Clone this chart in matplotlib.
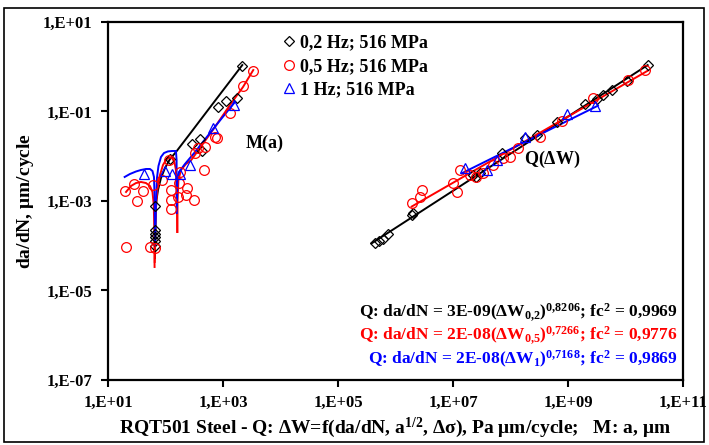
import math
import matplotlib
matplotlib.use("Agg")
import matplotlib.pyplot as plt
from matplotlib.ticker import FixedLocator, FuncFormatter, NullLocator
from matplotlib.patches import Rectangle

plt.rcParams['font.family'] = ['Liberation Serif', 'DejaVu Serif']
plt.rcParams['font.weight'] = 'bold'
plt.rcParams['mathtext.default'] = 'regular'

# ---- M(a): da/dN vs crack length a (um) ----
m_a_02 = [65.6, 65.6, 65.6, 65.6, 65.6, 65.6, 120, 289, 398, 431, 818, 1127, 1750, 2138]
m_v_02 = [9.86e-5, 1.28e-4, 1.57e-4, 1.83e-4, 2.25e-4, 7.73e-4, 0.00868, 0.0188, 0.0243,
          0.0131, 0.126, 0.172, 0.200, 1.04]

m_a_05 = [19.8, 28.3, 40.6, 32.6, 20.6, 53.1, 64.9, 60.6, 87.9, 117, 127, 127, 127, 165,
          172, 236, 227, 317, 179, 467, 326, 372, 486, 726, 777, 1324, 2254, 3365]
m_v_05 = [0.00167, 0.0024, 0.00167, 0.0010, 9.5e-5, 9.5e-5, 8.9e-5, 0.00228, 0.00294,
          0.00825, 0.00176, 0.00105, 0.000662, 0.00123, 0.00248, 0.00192, 0.00136,
          0.00105, 0.00438, 0.00493, 0.0118, 0.0151, 0.0163, 0.0274, 0.0252, 0.0912,
          0.371, 0.804]

m_a_1 = [42.8, 98.0, 128, 179, 267, 678, 1553]
m_v_1 = [0.00401, 0.00476, 0.00401, 0.00401, 0.00637, 0.0421, 0.140]

# ---- Q(dW): da/dN vs energy parameter dW ----
q_w_02 = [4.40e5, 5.22e5, 6.14e5, 7.50e5, 1.91e6, 2.02e6, 2.23e7, 2.51e7, 2.95e7, 7.03e7,
          1.79e8, 2.85e8, 6.36e8, 1.98e9, 3.16e9, 4.06e9, 5.75e9, 1.05e10, 2.43e10]
q_v_02 = [1.17e-4, 1.30e-4, 1.42e-4, 1.80e-4, 4.86e-4, 5.39e-4, 0.00381, 0.00344, 0.00423,
          0.0116, 0.0256, 0.0298, 0.0592, 0.147, 0.190, 0.234, 0.302, 0.481, 1.09]

q_w_05 = [1.91e6, 2.67e6, 2.86e6, 1.01e7, 1.16e7, 1.32e7, 1.98e7, 2.51e7, 3.33e7, 4.97e7,
          7.41e7, 9.80e7, 1.35e8, 3.26e8, 7.77e8, 2.72e9, 1.12e10, 2.18e10]
q_v_05 = [8.89e-4, 0.00125, 0.00176, 0.00248, 0.00161, 0.00493, 0.00381, 0.00344, 0.00423,
          0.00637, 0.00914, 0.00962, 0.0153, 0.0269, 0.0614, 0.200, 0.506, 0.845]

q_w_1 = [1.62e7, 3.85e7, 5.76e7, 1.79e8, 9.8e8, 2.95e9]
q_v_1 = [0.00546, 0.00493, 0.00825, 0.0269, 0.0879, 0.133]

# ---- fitted curves ----
fit_m_02_a = [65.6, 66.2, 67.3, 69.7, 74.1, 83.5, 98.0, 120, 152, 267, 398, 726, 1324, 2168]
fit_m_02_v = [5.32e-5, 1.34e-4, 4.86e-4, 0.00105, 0.00176, 0.00327, 0.00546, 0.00868,
              0.0124, 0.0319, 0.0627, 0.173, 0.475, 1.09]

fit_m_05_a = [[20.6, 25.1, 30.7, 37.5, 45.8, 53.7, 59.4, 62.6, 63.9, 64.6],
              [65.1, 66.2, 68.4, 72.6, 80.2, 90.5, 102, 115, 130, 143, 152, 157, 160],
              [161, 162.3, 168, 186, 227, 281, 398, 726, 1324, 2228, 3365]]
fit_m_05_v = [[0.00159, 0.00216, 0.00252, 0.00266, 0.00252, 0.00216, 0.00159, 0.000815,
               0.000225, 3.35e-5],
              [4.34e-5, 2.25e-4, 8.15e-4, 0.00195, 0.00381, 0.00637, 0.00825, 0.00938,
               0.00914, 0.00745, 0.00493, 0.00176, 0.000203],
              [0.000203, 0.00105, 0.00294, 0.00493, 0.00671, 0.00825, 0.0153, 0.0451,
               0.140, 0.352, 0.845]]

fit_m_1_a = [[19.5, 24.1, 30.7, 37.5, 45.8, 53.7, 59.4, 63.1, 64.9, 65.6],
             [66.5, 68.4, 71.1, 75.5, 83.5, 94.2, 110, 130, 152, 156, 157],
             [158.5, 160.3, 172, 218, 326, 594, 961, 1617]]
fit_m_1_v = [[0.00344, 0.00401, 0.00456, 0.00493, 0.00519, 0.00519, 0.00468, 0.00344,
              0.00105, 9.86e-5],
             [1.34e-4, 0.00105, 0.00327, 0.00605, 0.00962, 0.0118, 0.0128, 0.0131,
              0.0131, 0.00825, 0.000539],
             [0.000815, 0.00294, 0.00445, 0.00671, 0.0124, 0.0331, 0.0716, 0.163]]

fit_q_02_w = [3.85e5, 2.43e10]
fit_q_02_v = [1.13e-4, 1.09]
fit_q_05_w = [1.91e6, 2.46e10]
fit_q_05_v = [7.5e-4, 0.82]
fit_q_1_w = [1.42e7, 3.33e9]
fit_q_1_v = [0.00416, 0.135]

labels = ['0,2 Hz; 516 MPa', '0,5 Hz; 516 MPa', '1 Hz; 516 MPa']
eq_texts = [r'Q: da/dN = 3E-09($\Delta$W$_{0{,}2}$)$^{0{,}8206}$; fc$^{2}$ = 0,9969',
            r'Q: da/dN = 2E-08($\Delta$W$_{0{,}5}$)$^{0{,}7266}$; fc$^{2}$ = 0,9776',
            r'Q: da/dN = 2E-08($\Delta$W$_{1}$)$^{0{,}7168}$; fc$^{2}$ = 0,9869']
colors = ['black', 'red', 'blue']

fig = plt.figure(figsize=(7.09, 4.45), dpi=100)
ax = fig.add_axes([0.1523, 0.1461, 0.811, 0.8045])
ax.set_xscale('log')
ax.set_yscale('log')
ax.set_xlim(1e1, 1e11)
ax.set_ylim(1e-7, 1e1)

lw = 1.4
# fit lines
ax.plot(fit_m_02_a, fit_m_02_v, color='black', lw=lw, zorder=2)
for xs, ys in zip(fit_m_05_a, fit_m_05_v):
    ax.plot(xs, ys, color='red', lw=lw, zorder=2)
for xs, ys in zip(fit_m_1_a, fit_m_1_v):
    ax.plot(xs, ys, color='blue', lw=lw, zorder=2)
ax.plot(fit_q_02_w, fit_q_02_v, color='black', lw=lw, zorder=2)
ax.plot(fit_q_05_w, fit_q_05_v, color='red', lw=lw, zorder=2)
ax.plot(fit_q_1_w, fit_q_1_v, color='blue', lw=lw, zorder=2)

# points
ax.plot(m_a_02, m_v_02, ls='none', marker='D', ms=5.5, mfc='none', mec='black', mew=0.9,
        label=labels[0], zorder=3)
ax.plot(q_w_02, q_v_02, ls='none', marker='D', ms=5.5, mfc='none', mec='black', mew=0.9, zorder=3)
ax.plot(m_a_05, m_v_05, ls='none', marker='o', ms=7, mfc='none', mec='red', mew=0.9,
        label=labels[1], zorder=3)
ax.plot(q_w_05, q_v_05, ls='none', marker='o', ms=7, mfc='none', mec='red', mew=0.9, zorder=3)
ax.plot(m_a_1, m_v_1, ls='none', marker='^', ms=7, mfc='none', mec='blue', mew=0.9,
        label=labels[2], zorder=3)
ax.plot(q_w_1, q_v_1, ls='none', marker='^', ms=7, mfc='none', mec='blue', mew=0.9, zorder=3)

# axes styling
fmt = FuncFormatter(lambda v, p: '1,E%+03d' % round(math.log10(v)))
ax.xaxis.set_major_locator(FixedLocator([1e1, 1e3, 1e5, 1e7, 1e9, 1e11]))
ax.yaxis.set_major_locator(FixedLocator([1e-7, 1e-5, 1e-3, 1e-1, 1e1]))
ax.xaxis.set_minor_locator(NullLocator())
ax.yaxis.set_minor_locator(NullLocator())
ax.xaxis.set_major_formatter(fmt)
ax.yaxis.set_major_formatter(fmt)
ax.tick_params(direction='out', length=5, width=1.5, labelsize=12, pad=6)
for s in ax.spines.values():
    s.set_linewidth(1.6)

ax.set_xlabel(r'RQT501 Steel - Q: $\Delta$W=f(da/dN, a$^{1/2}$, $\Delta\sigma$), Pa $\mu$m/cycle;   M: a, $\mu$m',
              fontsize=14, fontweight='bold', labelpad=3)
ax.set_ylabel(r'da/dN, $\mu$m/cycle', fontsize=14, fontweight='bold', labelpad=5)

ax.text(0.272, 0.662, 'M(a)', transform=ax.transAxes, fontsize=13, ha='center', va='center')
ax.text(0.772, 0.615, r'Q($\Delta$W)', transform=ax.transAxes, fontsize=13, ha='center', va='center')
for t, c, yy in zip(eq_texts, colors, [0.190, 0.126, 0.056]):
    ax.text(0.99, yy, t, transform=ax.transAxes, color=c, fontsize=12.5, ha='right', va='center')

ax.legend(loc='upper left', bbox_to_anchor=(0.29, 0.985), frameon=False, fontsize=13,
          handlelength=0.8, handletextpad=0.2, labelspacing=0.35, borderaxespad=0)

fig.patches.append(Rectangle((4 / 709, 3 / 445), 700 / 709, 434 / 445, transform=fig.transFigure,
                             fill=False, edgecolor='black', lw=1.2))

fig.savefig('out.png', dpi=100)
